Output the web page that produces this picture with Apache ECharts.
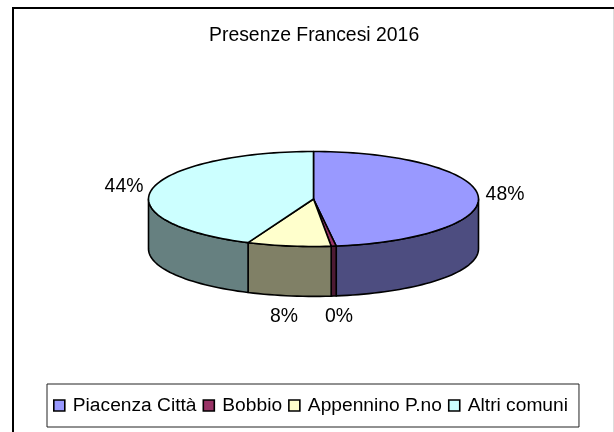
<!DOCTYPE html>
<html><head><meta charset="utf-8">
<style>html,body{margin:0;padding:0;background:#fff}#c{width:614px;height:432px}</style>
<script src="https://cdn.jsdelivr.net/npm/echarts@6/dist/echarts.min.js"></script>
</head><body><div id="c"></div>
<script>
const titleText = 'Presenze Francesi 2016';
const categories = ['Piacenza Città', 'Bobbio', 'Appennino P.no', 'Altri comuni'];
const values = [47.8, 0.49, 8.2, 43.51];
const topColors = ['#9999FF', '#993366', '#FFFFCC', '#CCFFFF'];
const sideColors = ['#4D4D80', '#4D1A33', '#808066', '#668080'];
const labelPositions = [[505, 195], [339, 317], [284, 317], [124, 187]];
const FONT = '"Liberation Sans", Arial, sans-serif';
const DEPTH = 1.05; // wall height in units of the vertical radius

const total = values.reduce((a, b) => a + b, 0);
let acc = 0;
const spans = values.map(v => { const s = acc; acc += v; return [s / total * 360, acc / total * 360]; });
const rad = d => d * Math.PI / 180;
const arc = (a, b) => { const n = Math.max(2, Math.ceil((b - a) / 2)); const r = []; for (let i = 0; i <= n; i++) r.push(a + (b - a) * i / n); return r; };
const unit = (d, drop) => [Math.sin(rad(d)), Math.cos(rad(d)) - (drop || 0)];

function renderSlice(idx) {
  return function (params, api) {
    const [a, b] = spans[idx];
    const children = [];
    const w0 = Math.max(a, 90), w1 = Math.min(b, 270);
    const line = { stroke: '#000', lineWidth: 1.6, lineJoin: 'round' };
    if (w1 > w0) {
      const angles = arc(w0, w1);
      const pts = angles.map(d => api.coord(unit(d))).concat(angles.slice().reverse().map(d => api.coord(unit(d, DEPTH))));
      children.push({ type: 'polygon', shape: { points: pts }, style: Object.assign({ fill: sideColors[idx] }, line) });
    }
    const top = [api.coord([0, 0])].concat(arc(a, b).map(d => api.coord(unit(d))));
    children.push({ type: 'polygon', shape: { points: top }, style: Object.assign({ fill: topColors[idx] }, line) });
    const lp = labelPositions[idx];
    children.push({ type: 'text', x: lp[0], y: lp[1], style: {
      text: Math.round(values[idx]) + '%', fill: '#000', font: '19.4px ' + FONT, align: 'center', verticalAlign: 'middle' } });
    return { type: 'group', children };
  };
}

const series = categories.map((name, i) => ({
  type: 'custom', name, coordinateSystem: 'cartesian2d', clip: false, silent: true,
  itemStyle: { color: topColors[i] }, data: [[0, 0]], encode: { x: 0, y: 1 }, renderItem: renderSlice(i)
}));

const chart = echarts.init(document.getElementById('c'), null, { renderer: 'canvas' });
chart.setOption({
  animation: false, backgroundColor: '#fff',
  title: { text: titleText, left: 209, top: 26, textStyle: { fontFamily: FONT, fontSize: 19.4, fontWeight: 'normal', color: '#000' }, padding: 0 },
  grid: { left: 148.5, top: 151.5, width: 330, height: 47.5 * (2 + DEPTH) },
  xAxis: { type: 'value', min: -1, max: 1, show: false },
  yAxis: { type: 'value', min: -1 - DEPTH, max: 1, show: false },
  legend: {
    data: categories, left: 47, top: 384, icon: 'rect', itemWidth: 11, itemHeight: 11, itemGap: 6, padding: [12, 11, 12, 6],
    borderColor: '#222', borderWidth: 1, backgroundColor: '#fff', selectedMode: false,
    itemStyle: { borderColor: '#000', borderWidth: 1.6 },
    textStyle: { fontFamily: FONT, fontSize: 19.2, color: '#000', padding: [0, 0, 0, 3] }
  },
  series,
  graphic: [
    { type: 'line', shape: { x1: 12, y1: 8, x2: 614, y2: 8 }, style: { stroke: '#000', lineWidth: 2 } },
    { type: 'line', shape: { x1: 13, y1: 8, x2: 13, y2: 432 }, style: { stroke: '#000', lineWidth: 2 } },
    { type: 'line', shape: { x1: 613.5, y1: 9, x2: 613.5, y2: 432 }, style: { stroke: '#ddd', lineWidth: 1 } }
  ]
});
</script></body></html>
